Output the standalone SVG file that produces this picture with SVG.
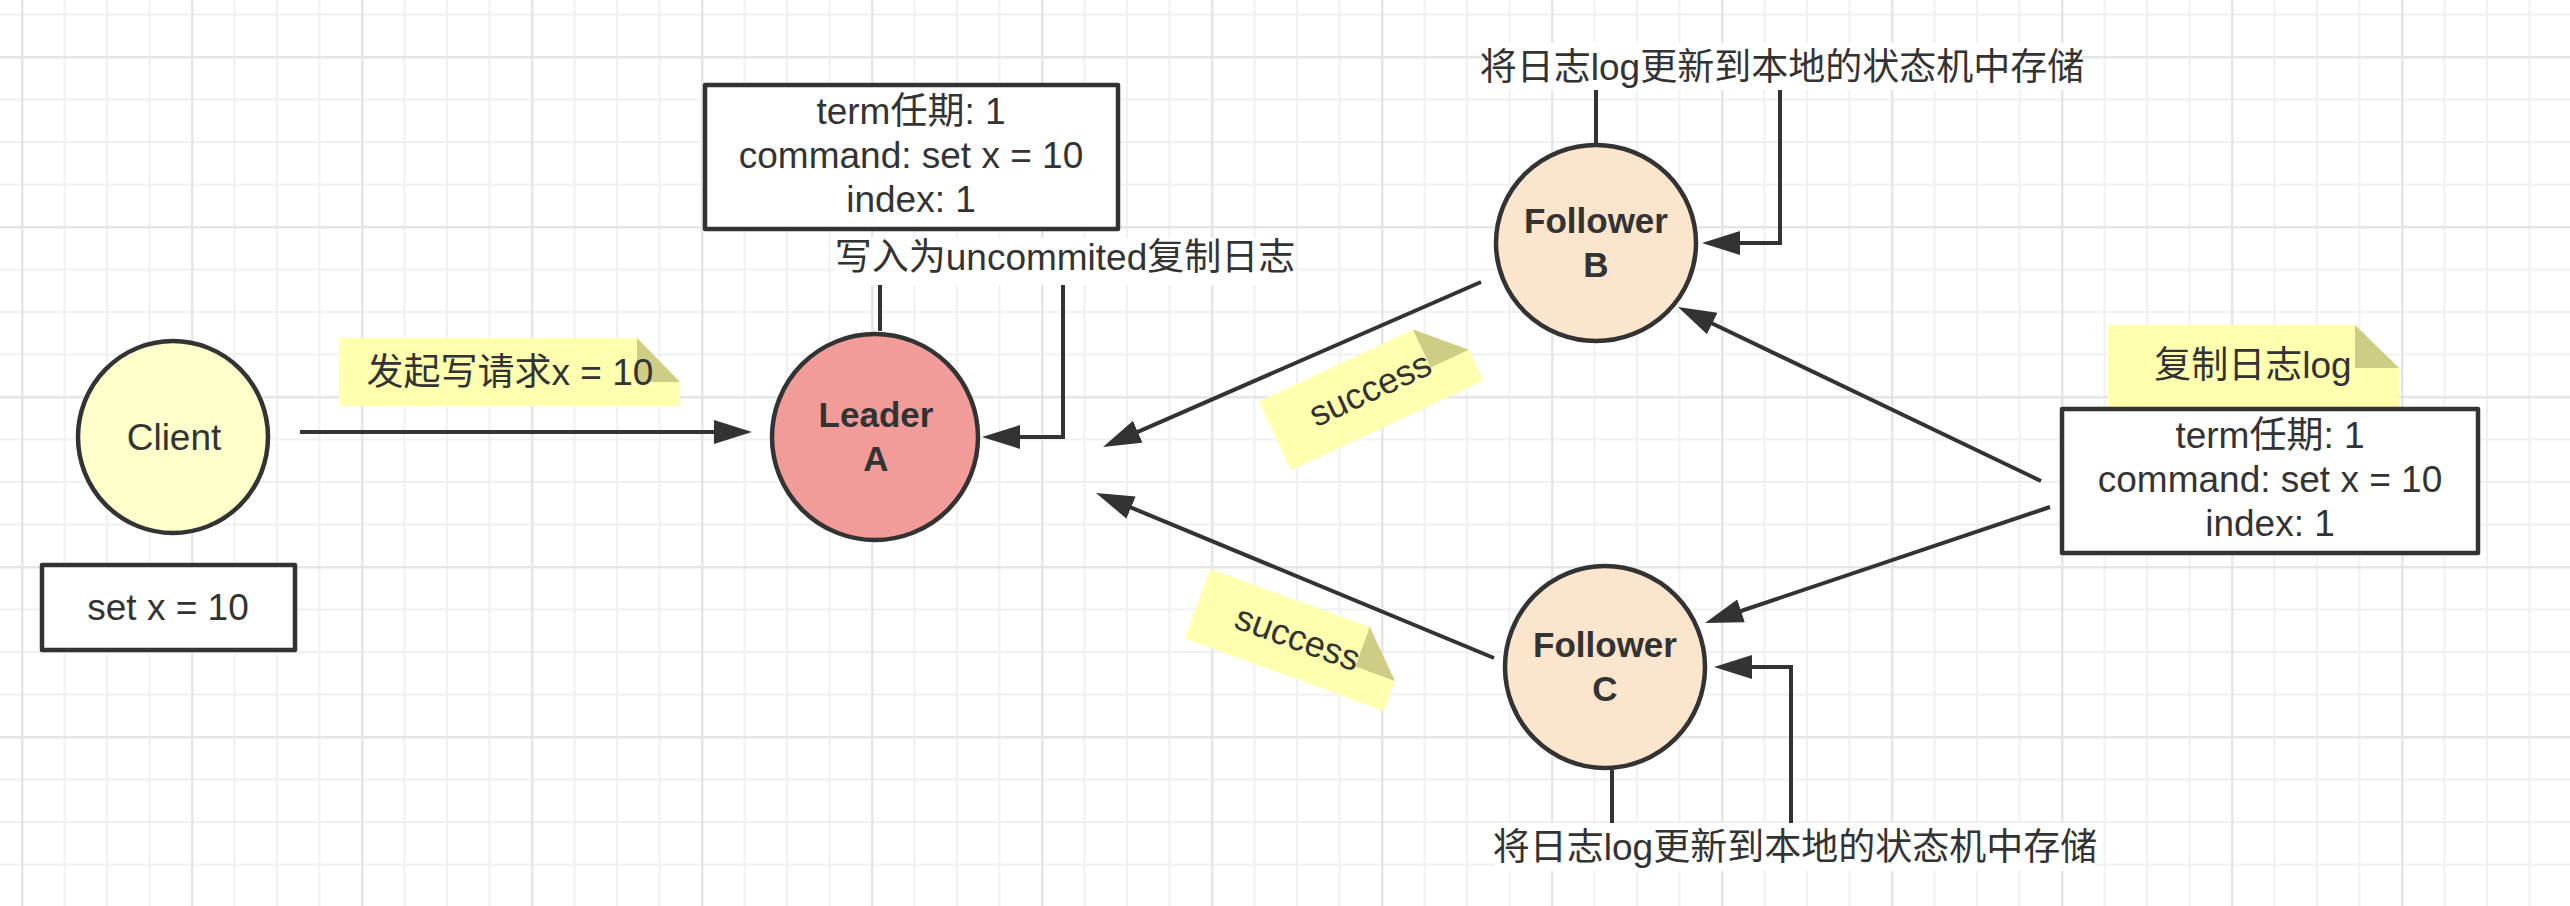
<svg xmlns="http://www.w3.org/2000/svg" width="2570" height="906" viewBox="0 0 2570 906">
  <defs>
    <pattern id="grid" patternUnits="userSpaceOnUse" x="21" y="56" width="170" height="170">
      <rect x="42.5" y="0" width="2" height="170" fill="#f0f0f0"/>
      <rect x="85" y="0" width="2" height="170" fill="#f0f0f0"/>
      <rect x="127.5" y="0" width="2" height="170" fill="#f0f0f0"/>
      <rect x="0" y="42.5" width="170" height="2" fill="#f0f0f0"/>
      <rect x="0" y="85" width="170" height="2" fill="#f0f0f0"/>
      <rect x="0" y="127.5" width="170" height="2" fill="#f0f0f0"/>
      <rect x="0" y="0" width="2.5" height="170" fill="#e5e5e5"/>
      <rect x="0" y="0" width="170" height="2.5" fill="#e5e5e5"/>
    </pattern>
    <marker id="arrow" markerUnits="userSpaceOnUse" markerWidth="40" markerHeight="26" refX="30" refY="12" orient="auto" viewBox="0 0 40 26">
      <path d="M0,0 L38,12 L0,24 Z" fill="#333333"/>
    </marker>
  </defs>
  <style>
    text { font-family: "Liberation Sans", "Noto Sans CJK SC", sans-serif; fill: #333333; font-size: 37px; }
    .c { text-anchor: middle; }
    .b { font-weight: bold; font-size: 35px; }
    .s { font-size: 36px; }
    .node { stroke: #333333; stroke-width: 4.5; }
    .box { fill: #ffffff; stroke: #333333; stroke-width: 4.5; stroke-linejoin: round; }
    .note { fill: #ffffb0; }
    .fold { fill: #cdcd85; }
    .conn { fill: none; stroke: #333333; stroke-width: 4; }
    .lbg { fill: #ffffff; }
  </style>

  <rect x="0" y="0" width="2570" height="906" fill="#ffffff"/>
  <rect x="0" y="0" width="2570" height="906" fill="url(#grid)"/>

  <g id="connectors">
    <path class="conn" d="M300,432 H744" marker-end="url(#arrow)"/>
    <path class="conn" d="M880,331 V260 H1063 V437 H990" marker-end="url(#arrow)"/>
    <path class="conn" d="M1596,143 V66 H1780 V243 H1710" marker-end="url(#arrow)"/>
    <path class="conn" d="M1612,770 V848 H1791 V667 H1722" marker-end="url(#arrow)"/>
    <path class="conn" d="M1481,282 L1110.3,443.8" marker-end="url(#arrow)"/>
    <path class="conn" d="M1494,658 L1103.4,496.1" marker-end="url(#arrow)"/>
    <path class="conn" d="M2041,481 L1685.2,310.5" marker-end="url(#arrow)"/>
    <path class="conn" d="M2050,507 L1712.6,620.5" marker-end="url(#arrow)"/>
    <g id="label-uncommited">
      <rect class="lbg" x="835" y="238" width="460" height="47"/>
      <text class="c" x="1065" y="270">写入为uncommited复制日志</text>
    </g>
    <g id="label-apply-b">
      <rect class="lbg" x="1482" y="43" width="600" height="47"/>
      <text class="c" x="1782" y="80">将日志log更新到本地的状态机中存储</text>
    </g>
    <g id="label-apply-c">
      <rect class="lbg" x="1495" y="823" width="600" height="48"/>
      <text class="c" x="1795" y="860">将日志log更新到本地的状态机中存储</text>
    </g>
  </g>

  <g id="client">
    <ellipse class="node" cx="173" cy="437" rx="95" ry="96" fill="#ffffcc"/>
    <text class="c" x="174" y="450">Client</text>
  </g>

  <g id="client-cmd">
    <rect class="box" x="42" y="565" width="253" height="85"/>
    <text class="c" x="168" y="620">set x = 10</text>
  </g>

  <g id="note-request">
    <path class="note" d="M339,338 H637 L680,382 V406 H339 Z"/>
    <path class="fold" d="M637,338 L680,382 H637 Z"/>
    <text class="c" x="510" y="385">发起写请求x = 10</text>
  </g>

  <g id="leader">
    <ellipse class="node" cx="875" cy="437" rx="103" ry="103" fill="#f19c99"/>
    <text class="c b" x="876" y="427">Leader</text>
    <text class="c b" x="876" y="471">A</text>
  </g>

  <g id="leader-log">
    <rect class="box" x="705" y="85" width="413" height="144"/>
    <text class="c" x="911" y="124">term任期: 1</text>
    <text class="c" x="911" y="168">command: set x = 10</text>
    <text class="c" x="911" y="212">index: 1</text>
  </g>

  <g id="follower-b">
    <ellipse class="node" cx="1596" cy="243" rx="100" ry="98" fill="#fce5cd"/>
    <text class="c b" x="1596" y="233">Follower</text>
    <text class="c b" x="1596" y="277">B</text>
  </g>

  <g id="follower-c">
    <ellipse class="node" cx="1605" cy="667" rx="100" ry="101" fill="#fce5cd"/>
    <text class="c b" x="1605" y="657">Follower</text>
    <text class="c b" x="1605" y="701">C</text>
  </g>

  <g id="note-replicate">
    <path class="note" d="M2108,325 H2355 L2399,368 V407 H2108 Z"/>
    <path class="fold" d="M2355,325 L2399,368 H2355 Z"/>
    <text class="c" x="2253" y="378">复制日志log</text>
  </g>

  <g id="follower-log">
    <rect class="box" x="2062" y="409" width="416" height="144"/>
    <text class="c" x="2270" y="448">term任期: 1</text>
    <text class="c" x="2270" y="492">command: set x = 10</text>
    <text class="c" x="2270" y="536">index: 1</text>
  </g>

  <g id="note-success-b" transform="translate(1371,391) rotate(-25)">
    <path class="note" d="M-106,-38 H64 L106,4 V38 H-106 Z"/>
    <path class="fold" d="M64,-38 L106,4 H64 Z"/>
    <text class="c s" x="0" y="10">success</text>
  </g>

  <g id="note-success-c" transform="translate(1297,640) rotate(20)">
    <path class="note" d="M-106,-37 H64 L106,5 V37 H-106 Z"/>
    <path class="fold" d="M64,-37 L106,5 H64 Z"/>
    <text class="c s" x="0" y="10">success</text>
  </g>
</svg>
